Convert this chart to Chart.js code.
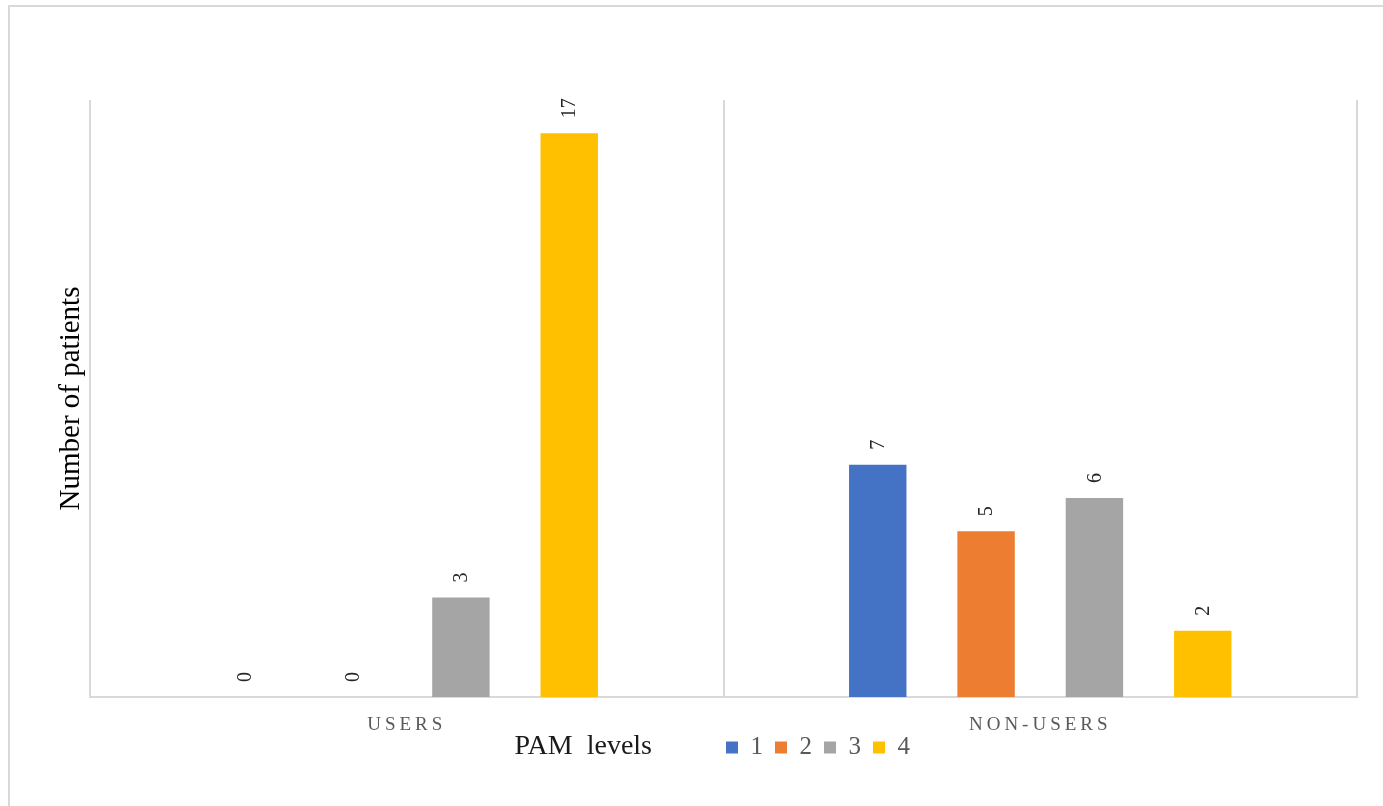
<!DOCTYPE html>
<html>
<head>
<meta charset="utf-8">
<script src="https://cdn.jsdelivr.net/npm/chart.js@4/dist/chart.umd.min.js"></script>
<style>
  html, body { margin: 0; padding: 0; background: #fff; overflow: hidden; }
  .frame {
    position: absolute; left: 8px; top: 5px;
    width: 1390px; height: 810px;
    border: 2px solid #d9d9d9;
  }
  canvas { display: block; }
</style>
</head>
<body>
<div class="frame">
  <canvas id="pamChart" width="1390" height="810"></canvas>
</div>
<script>
// PAM level counts per group
const groups = ['USERS', 'NON-USERS'];
const levels = ['1', '2', '3', '4'];
const level1 = [0, 7];
const level2 = [0, 5];
const level3 = [3, 6];
const level4 = [17, 2];
const levelColors = ['#4472C4', '#ED7D31', '#A5A5A5', '#FFC000'];

const serif = "'Liberation Serif', 'Times New Roman', serif";

// Vertical value labels above each bar
const barLabels = {
  id: 'barLabels',
  afterDatasetsDraw(chart) {
    const ctx = chart.ctx;
    ctx.save();
    ctx.font = '20px ' + serif;
    ctx.fillStyle = '#262626';
    ctx.textAlign = 'left';
    ctx.textBaseline = 'middle';
    chart.data.datasets.forEach((ds, i) => {
      chart.getDatasetMeta(i).data.forEach((bar, j) => {
        ctx.save();
        ctx.translate(bar.x + 1, bar.y - 15);
        ctx.rotate(-Math.PI / 2);
        ctx.fillText(String(ds.data[j]), 0, 0);
        ctx.restore();
      });
    });
    ctx.restore();
  }
};

// Legend sits to the right of the axis title, on the same row
const legendRow = {
  id: 'legendRow',
  afterLayout(chart) {
    const lg = chart.legend;
    const w = lg.right - lg.left;
    lg.left = 704;
    lg.right = lg.left + w;
    lg.top -= 14;
    lg.bottom -= 14;
  },
  afterDraw(chart) {
    const lg = chart.legend;
    const first = lg.legendHitBoxes[0];
    const ctx = chart.ctx;
    ctx.save();
    ctx.font = '28px ' + serif;
    ctx.fillStyle = '#1a1a1a';
    ctx.textAlign = 'right';
    ctx.textBaseline = 'middle';
    ctx.fillText('PAM  levels', first.left - 74, first.top + first.height / 2 - 1);
    ctx.restore();
  }
};

// Spaced-out category labels
const spacedTicks = {
  id: 'spacedTicks',
  beforeDraw(chart) {
    const x = chart.scales.x;
    if (x._spaced) return;
    const orig = x.drawLabels;
    x.drawLabels = function (area) {
      this.ctx.save();
      this.ctx.letterSpacing = '4px';
      orig.call(this, area);
      this.ctx.restore();
    };
    x._spaced = true;
  }
};

const datasets = [level1, level2, level3, level4].map((vals, i) => ({
  label: levels[i],
  data: vals,
  backgroundColor: levelColors[i],
  categoryPercentage: 0.684,
  barPercentage: 0.53
}));

new Chart(document.getElementById('pamChart'), {
  type: 'bar',
  data: { labels: groups, datasets: datasets },
  options: {
    responsive: false,
    animation: false,
    layout: { padding: { left: 44, right: 43, top: 93, bottom: 33 } },
    scales: {
      x: {
        grid: { color: '#d9d9d9', lineWidth: 2, drawTicks: false, offset: true },
        border: { color: '#d9d9d9', width: 2 },
        ticks: {
          padding: 17,
          color: '#595959',
          font: { family: serif, size: 19 }
        },
        afterFit(s) { s.height = 40; }
      },
      y: {
        min: 0,
        max: 18,
        grid: { display: false },
        border: { display: false },
        ticks: { display: false },
        title: {
          display: true,
          text: 'Number of patients',
          color: '#000',
          padding: 0,
          font: { family: serif, size: 29 }
        },
        afterFit(s) { s.width = 36; }
      }
    },
    plugins: {
      legend: {
        position: 'bottom',
        align: 'start',
        labels: {
          boxWidth: 12,
          boxHeight: 12,
          padding: 12,
          color: '#595959',
          font: { family: serif, size: 25 }
        }
      },
      tooltip: { enabled: false }
    }
  },
  plugins: [barLabels, legendRow, spacedTicks]
});
</script>
</body>
</html>
